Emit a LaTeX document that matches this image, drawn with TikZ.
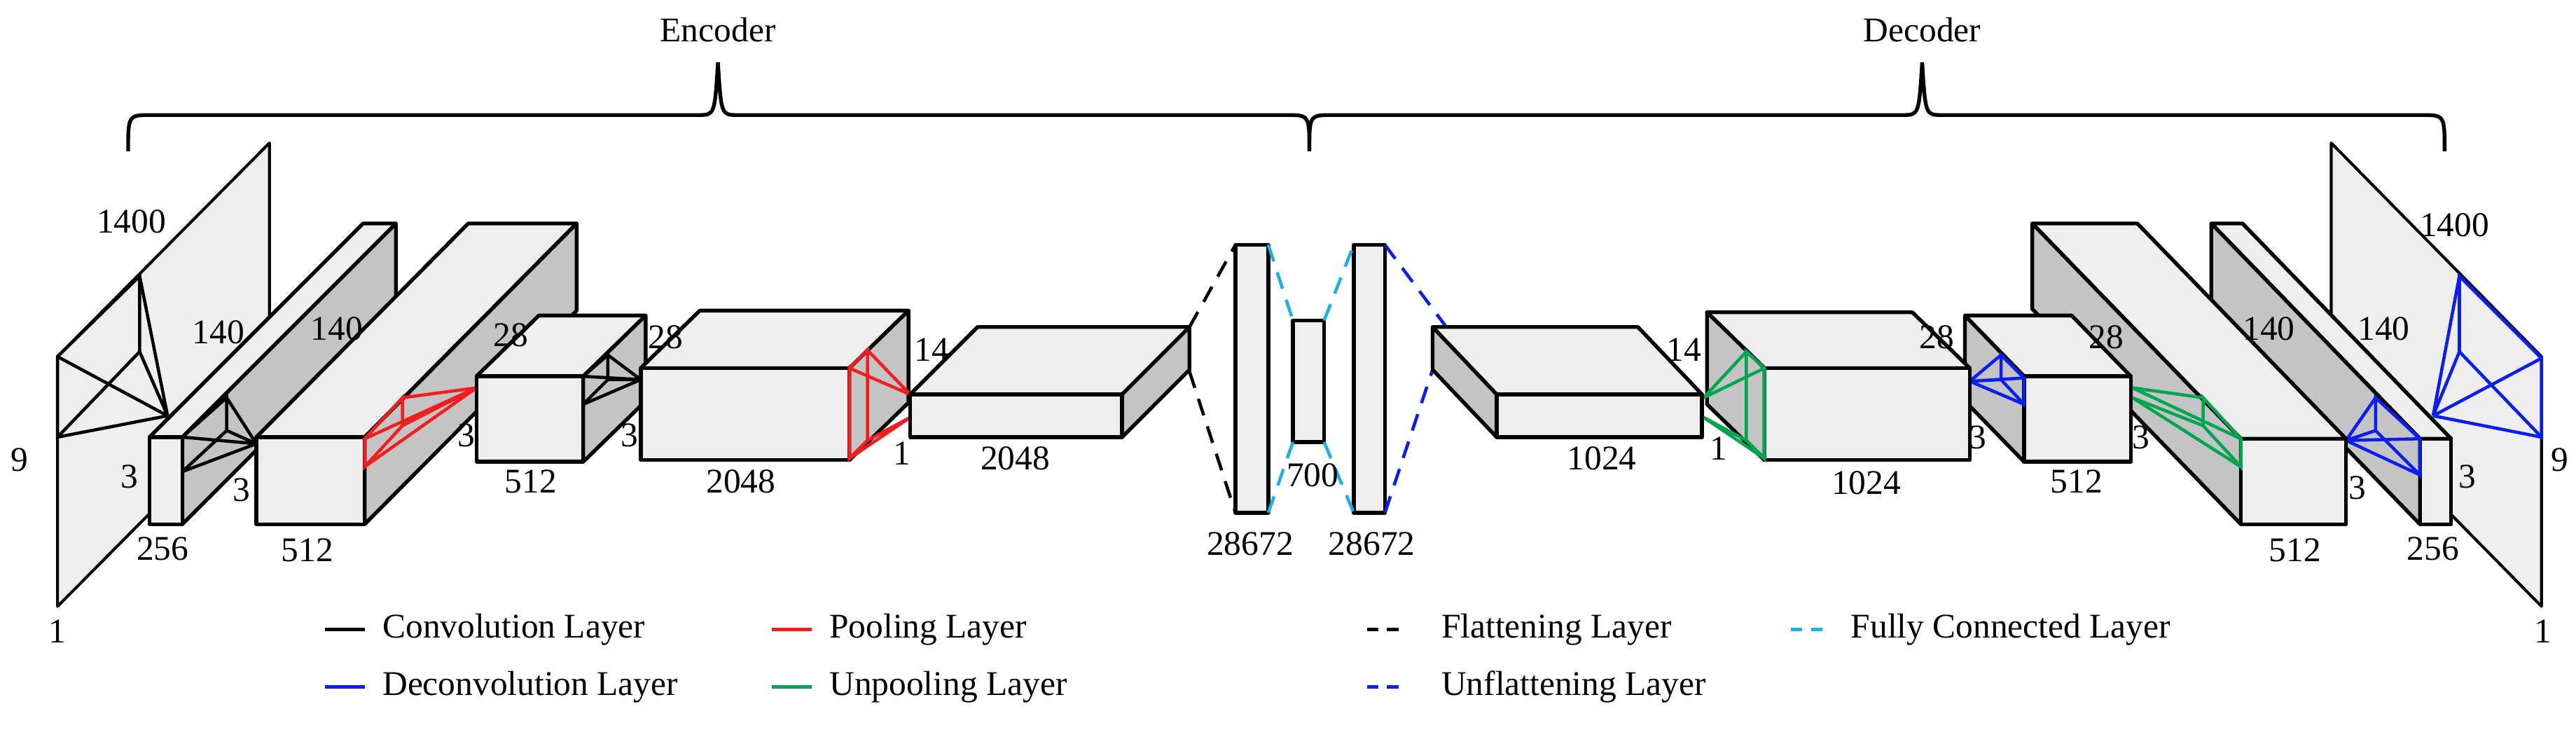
\documentclass[tikz,border=0pt]{standalone}
\usepackage{fontspec}
\setmainfont{Liberation Serif}
\usetikzlibrary{positioning}
\definecolor{faceg}{HTML}{EEEEEE}
\definecolor{sideg}{HTML}{C4C4C4}
\definecolor{cyan}{HTML}{1AB2E6}
\definecolor{green}{HTML}{00A550}
\definecolor{blue}{HTML}{0A1EF0}
\definecolor{red}{HTML}{F01E1E}

% box with depth to the right: x1,y1 (front top-left), x2,y2 (front bottom-right), dx,dy
\newcommand{\cuber}[6]{
	\filldraw[box,fill=faceg] (#1,#2) -- (#1+#5,#2+#6) -- (#3+#5,#2+#6) -- (#3,#2) -- cycle;
	\filldraw[box,fill=sideg] (#3,#2) -- (#3+#5,#2+#6) -- (#3+#5,#4+#6) -- (#3,#4) -- cycle;
	\filldraw[box,fill=faceg] (#1,#2) rectangle (#3,#4);
}
% box with depth to the left
\newcommand{\cubel}[6]{
	\filldraw[box,fill=faceg] (#1,#2) -- (#1+#5,#2+#6) -- (#3+#5,#2+#6) -- (#3,#2) -- cycle;
	\filldraw[box,fill=sideg] (#1,#2) -- (#1+#5,#2+#6) -- (#1+#5,#4+#6) -- (#1,#4) -- cycle;
	\filldraw[box,fill=faceg] (#1,#2) rectangle (#3,#4);
}
% kernel pyramid: four base points, two apex points
\newcommand{\kernel}[7]{
	\draw[#1] #2 -- #3 -- #4 -- #5 -- cycle;
	\draw[#1] #2 -- #6 #3 -- #6 #4 -- #7 #5 -- #7;
}
% curly brace: left end, tip x, right end x (line at y=70)
\newcommand{\curly}[3]{
	\draw[line width=1.3pt] (#1,92) .. controls (#1,70) .. (#1+14,70) -- (#2-12,70)
		.. controls (#2-2,70) .. (#2,38) .. controls (#2+2,70) .. (#2+12,70) -- (#3-14,70)
		.. controls (#3,70) .. (#3,92);
}

\begin{document}
\begin{tikzpicture}[x=0.02cm,y=-0.02cm,
	box/.style={line width=1.3pt,line join=round},
	kl/.style={line width=1.1pt},
	lab/.style={font=\fontsize{12}{13}\selectfont,inner sep=1pt},
	dsh/.style={line width=1.1pt,dash pattern=on 6pt off 4pt}]
	\useasboundingbox (0,0) rectangle (1568,444);

	% braces
	\curly{78}{437}{797}
	\curly{797}{1170}{1488}
	\node[lab] (enc) at (437,18) {Encoder};
	\node[lab] (dec) at (1170,18) {Decoder};

	% encoder
	\filldraw[box,line width=1pt,fill=faceg] (35,217) -- (164,87) -- (164,239) -- (35,369) -- cycle;
	\cuber{91}{266}{111}{319}{130}{-130}
	\kernel{kl}{(85,168)}{(85,214)}{(35,266)}{(35,217)}{(102,253)}{(102,253)}
	\kernel{kl}{(138,242)}{(111,266)}{(111,287)}{(138,262)}{(156,270)}{(156,270)}
	\cuber{156}{266}{222}{319}{129}{-130}
	\kernel{kl,red}{(245,242)}{(222,267)}{(222,284)}{(245,259)}{(290,236)}{(290,236)}
	\cuber{290}{229}{355}{281}{38}{-37}
	\kernel{kl}{(370,216)}{(355,229)}{(355,246)}{(370,231)}{(390,231)}{(390,231)}
	\cuber{390}{224}{517}{280}{36}{-35}
	\kernel{kl,red}{(528,213)}{(517,224)}{(517,279)}{(528,268)}{(554,240)}{(554,254)}
	\cuber{554}{240}{683}{266}{41}{-41}

	% vectors
	\filldraw[box,fill=faceg] (752,149) rectangle (772,312);
	\filldraw[box,fill=faceg] (787,195) rectangle (806,269);
	\filldraw[box,fill=faceg] (824,149) rectangle (843,312);
	\draw[dsh] (724,199) -- (752,149);
	\draw[dsh] (724,226) -- (752,312);
	\draw[dsh,cyan] (772,149) -- (787,195);
	\draw[dsh,cyan] (772,312) -- (787,269);
	\draw[dsh,cyan] (806,195) -- (824,149);
	\draw[dsh,cyan] (806,269) -- (824,312);
	\draw[dsh,blue] (843,149) -- (911,240);
	\draw[dsh,blue] (843,312) -- (872,225);

	% decoder
	\filldraw[box,line width=1pt,fill=faceg] (1419,87) -- (1547,217) -- (1547,369) -- (1419,239) -- cycle;
	\cubel{1473}{267}{1492}{319}{-127}{-131}
	\kernel{kl,blue}{(1497,168)}{(1497,214)}{(1547,266)}{(1547,218)}{(1481,253)}{(1481,253)}
	\kernel{kl,blue}{(1446,242)}{(1473,267)}{(1473,289)}{(1446,262)}{(1428,268)}{(1428,268)}
	\cubel{1364}{267}{1428}{319}{-127}{-131}
	\kernel{kl,green}{(1341,242)}{(1364,267)}{(1364,284)}{(1341,259)}{(1298,236)}{(1298,242)}
	\cubel{1232}{229}{1297}{281}{-36}{-37}
	\kernel{kl,blue}{(1218,216)}{(1232,230)}{(1232,246)}{(1218,231)}{(1199,232)}{(1199,232)}
	\cubel{1074}{224}{1199}{280}{-35}{-34}
	\kernel{kl,green}{(1063,214)}{(1074,224)}{(1074,279)}{(1063,268)}{(1037,242)}{(1037,254)}
	\cubel{911}{240}{1036}{266}{-39}{-41}

	% dimension labels
	\node[lab] (l1400a) at (80,135) {1400};
	\node[lab] (l9a) at (12,280) {9};
	\node[lab] (l1a) at (35,384) {1};
	\node[lab] (l140a) at (133,202) {140};
	\node[lab] (l140b) at (205,200) {140};
	\node[lab] (l3a) at (79,290) {3};
	\node[lab] (l3b) at (147,298) {3};
	\node[lab] (l256a) at (99,334) {256};
	\node[lab] (l512a) at (187,335) {512};
	\node[lab] (l28a) at (311,204) {28};
	\node[lab] (l3c) at (284,265) {3};
	\node[lab] (l512b) at (323,293) {512};
	\node[lab] (l28b) at (405,205) {28};
	\node[lab] (l3d) at (383,265) {3};
	\node[lab] (l2048a) at (451,293) {2048};
	\node[lab] (l14a) at (567,213) {14};
	\node[lab] (l1b) at (549,276) {1};
	\node[lab] (l2048b) at (618,279) {2048};
	\node[lab] (l28672a) at (761,331) {28672};
	\node[lab] (l700) at (799,289) {700};
	\node[lab] (l28672b) at (835,331) {28672};
	\node[lab] (l14b) at (1025,213) {14};
	\node[lab] (l1024a) at (975,279) {1024};
	\node[lab] (l1c) at (1046,273) {1};
	\node[lab] (l28c) at (1179,205) {28};
	\node[lab] (l3e) at (1204,266) {3};
	\node[lab] (l1024b) at (1136,294) {1024};
	\node[lab] (l28d) at (1282,205) {28};
	\node[lab] (l3f) at (1303,266) {3};
	\node[lab] (l512c) at (1264,293) {512};
	\node[lab] (l140c) at (1381,200) {140};
	\node[lab] (l3g) at (1435,297) {3};
	\node[lab] (l512d) at (1397,335) {512};
	\node[lab] (l140d) at (1451,200) {140};
	\node[lab] (l3h) at (1502,290) {3};
	\node[lab] (l256b) at (1481,334) {256};
	\node[lab] (l1400b) at (1494,137) {1400};
	\node[lab] (l9b) at (1558,280) {9};
	\node[lab] (l1d) at (1548,384) {1};

	% legend
	\coordinate (c1) at (198,383); \coordinate (c2) at (222,383);
	\draw[kl] (c1) -- (c2); \node[lab,right=5pt of c2] (t1) {Convolution Layer};
	\coordinate (c3) at (470,383); \coordinate (c4) at (494,383);
	\draw[kl,red] (c3) -- (c4); \node[lab,right=5pt of c4] (t2) {Pooling Layer};
	\coordinate (c5) at (832,383); \coordinate (c6) at (856,383);
	\draw[dsh,dash pattern=on 4pt off 3pt] (c5) -- (c6); \node[lab,right=11pt of c6] (t3) {Flattening Layer};
	\coordinate (c7) at (1090,383); \coordinate (c8) at (1114,383);
	\draw[dsh,cyan,dash pattern=on 4pt off 3pt] (c7) -- (c8); \node[lab,right=6pt of c8] (t4) {Fully Connected Layer};
	\coordinate (c9) at (198,418); \coordinate (c10) at (222,418);
	\draw[kl,blue] (c9) -- (c10); \node[lab,right=5pt of c10] (t5) {Deconvolution Layer};
	\coordinate (c11) at (470,418); \coordinate (c12) at (494,418);
	\draw[kl,green] (c11) -- (c12); \node[lab,right=5pt of c12] (t6) {Unpooling Layer};
	\coordinate (c13) at (832,418); \coordinate (c14) at (856,418);
	\draw[dsh,blue,dash pattern=on 4pt off 3pt] (c13) -- (c14); \node[lab,right=11pt of c14] (t7) {Unflattening Layer};
\end{tikzpicture}
\end{document}
